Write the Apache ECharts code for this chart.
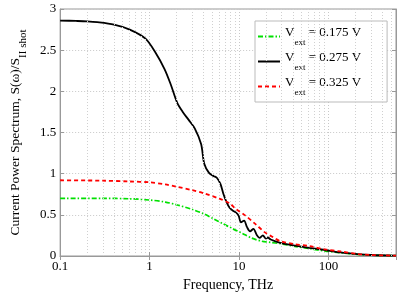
<!DOCTYPE html>
<html><head><meta charset="utf-8">
<script src="https://cdn.jsdelivr.net/npm/echarts@6/dist/echarts.min.js"></script>
<style>html,body{margin:0;padding:0;background:#fff}#c{width:403px;height:297px}</style>
</head><body><div id="c"></div>
<script>
const seriesNames = ['0.175', '0.275', '0.325'];
const greenF = [0.1, 0.3, 0.6, 1, 1.5, 2.04, 3, 4.09, 5.23, 6.67, 8.55, 10.9, 13.9, 17.9, 22.6, 29, 40.5, 61, 92, 137, 210, 300, 570];
const greenV = [0.70, 0.70, 0.695, 0.68, 0.655, 0.62, 0.565, 0.51, 0.45, 0.39, 0.33, 0.275, 0.217, 0.18, 0.165, 0.15, 0.12, 0.09, 0.06, 0.04, 0.02, 0.01, 0.004];
const blackF = [0.1, 0.15, 0.2, 0.26, 0.4, 0.6, 0.9, 1.15, 1.47, 1.73, 2.04, 2.35, 2.75, 3.2, 3.77, 4.09, 4.62, 5.23, 5.65, 6.2, 6.67, 7.22, 7.85, 8.55, 9.2, 9.9, 10.5, 11.4, 12.3, 13.3, 14.5, 15.8, 17, 18.5, 20, 21, 22.6, 29, 40.5, 61, 92, 137, 210, 300, 570];
const blackV = [2.86, 2.855, 2.85, 2.84, 2.81, 2.75, 2.64, 2.48, 2.27, 2.08, 1.86, 1.75, 1.65, 1.55, 1.36, 1.12, 1.01, 0.97, 0.95, 0.875, 0.76, 0.66, 0.585, 0.55, 0.53, 0.49, 0.41, 0.43, 0.35, 0.30, 0.33, 0.256, 0.22, 0.25, 0.21, 0.225, 0.2, 0.16, 0.13, 0.10, 0.073, 0.043, 0.023, 0.012, 0.005];
const redF = [0.1, 0.3, 0.6, 1, 1.5, 2.04, 3, 4.09, 5.9, 7.85, 9.25, 11.8, 15.2, 19.3, 23.8, 29, 40.5, 61, 92, 137, 210, 300, 570];
const redV = [0.92, 0.915, 0.905, 0.895, 0.87, 0.84, 0.80, 0.76, 0.70, 0.64, 0.57, 0.49, 0.39, 0.29, 0.23, 0.18, 0.147, 0.12, 0.08, 0.055, 0.025, 0.012, 0.004];
const minorGridF = [0.2,0.3,0.4,0.5,0.6,0.7,0.8,0.9,2,3,4,5,6,7,8,9,20,30,40,50,60,70,80,90,200,300,400,500];
const yTicks = [0, 0.5, 1, 1.5, 2, 2.5, 3];

const FONT = 'Liberation Serif';
const pair = (xs, ys) => xs.map((x, i) => [x, ys[i]]);
const legendName = v => 'Vext = ' + v + ' V';
const gridLine = {show: true, lineStyle: {color: '#c8c8c8', type: [1, 2], width: 1}};

const chart = echarts.init(document.getElementById('c'), null, {renderer: 'canvas'});
chart.setOption({
  animation: false,
  textStyle: {fontFamily: FONT},
  grid: {left: 44, right: 7, top: 9, bottom: 30, show: true, borderColor: '#999', borderWidth: 1},
  legend: {
    orient: 'vertical', left: 255, top: 21, itemWidth: 22, itemHeight: 12, itemGap: 4,
    padding: [5, 26, 5, 2], borderColor: '#bbb', borderWidth: 1, backgroundColor: '#fff',
    itemStyle: {opacity: 0},
    data: seriesNames.map(legendName),
    formatter: n => '{a|V}{b|ext}{a|' + n.slice(4) + '}',
    textStyle: {fontFamily: FONT, color: '#000',
      rich: {a: {fontFamily: FONT, fontSize: 13, lineHeight: 14, verticalAlign: 'top', color: '#000'},
             b: {fontFamily: FONT, fontSize: 9, lineHeight: 21, verticalAlign: 'bottom', color: '#000'}}}
  },
  xAxis: [{
    type: 'log', logBase: 10, min: 0.1, max: 570,
    name: 'Frequency, THz', nameLocation: 'middle', nameGap: 22,
    nameTextStyle: {fontFamily: FONT, fontSize: 14, color: '#000'},
    axisLine: {lineStyle: {color: '#999'}},
    axisTick: {inside: true, length: 4, lineStyle: {color: '#999'}},
    axisLabel: {fontFamily: FONT, fontSize: 13, color: '#000', margin: 4,
      formatter: v => { const l = Math.log10(v); return Math.abs(l - Math.round(l)) < 1e-6 ? String(+v.toPrecision(6)) : ''; }},
    splitLine: gridLine
  }, {
    type: 'log', logBase: 10, min: 0.1, max: 570, position: 'top',
    axisLine: {lineStyle: {color: '#999'}},
    axisTick: {inside: true, length: 4, lineStyle: {color: '#999'}},
    axisLabel: {show: false}, splitLine: {show: false}
  }],
  yAxis: [{
    type: 'value', min: yTicks[0], max: yTicks[yTicks.length - 1], interval: 0.5,
    name: '{a|Current Power Spectrum, S(ω)/S}{b|II shot}', nameLocation: 'middle', nameGap: 31,
    nameTextStyle: {fontFamily: FONT, color: '#000',
      rich: {a: {fontFamily: FONT, fontSize: 13.5, lineHeight: 14, verticalAlign: 'top', color: '#000'},
             b: {fontFamily: FONT, fontSize: 11, lineHeight: 21, verticalAlign: 'bottom', color: '#000'}}},
    axisLine: {show: true, lineStyle: {color: '#999'}},
    axisTick: {show: true, inside: true, length: 4, lineStyle: {color: '#999'}},
    axisLabel: {fontFamily: FONT, fontSize: 13, color: '#000', margin: 4},
    splitLine: gridLine
  }, {
    type: 'value', min: 0, max: 3, interval: 0.5, position: 'right',
    axisLine: {show: true, lineStyle: {color: '#999'}},
    axisTick: {show: true, inside: true, length: 4, lineStyle: {color: '#999'}},
    axisLabel: {show: false}, splitLine: {show: false}
  }],
  series: [
    {name: legendName(seriesNames[0]), type: 'line', data: pair(greenF, greenV), showSymbol: false, symbol: 'none', smooth: 0.3,
     lineStyle: {color: '#00e000', width: 1.7, type: [5, 2, 1.5, 2]}, itemStyle: {color: '#00e000'}, z: 3},
    {name: legendName(seriesNames[1]), type: 'line', data: pair(blackF, blackV), showSymbol: false, symbol: 'none', smooth: 0.3,
     lineStyle: {color: '#000', width: 1.8}, itemStyle: {color: '#000'}, z: 4,
     markLine: {silent: true, symbol: 'none', label: {show: false},
       lineStyle: {color: '#d0d0d0', type: [1, 2], width: 1},
       data: minorGridF.map(f => ({xAxis: f}))}},
    {name: legendName(seriesNames[2]), type: 'line', data: pair(redF, redV), showSymbol: false, symbol: 'none', smooth: 0.3,
     lineStyle: {color: '#ff0000', width: 1.8, type: [4, 3]}, itemStyle: {color: '#ff0000'}, z: 5}
  ]
});
</script></body></html>
